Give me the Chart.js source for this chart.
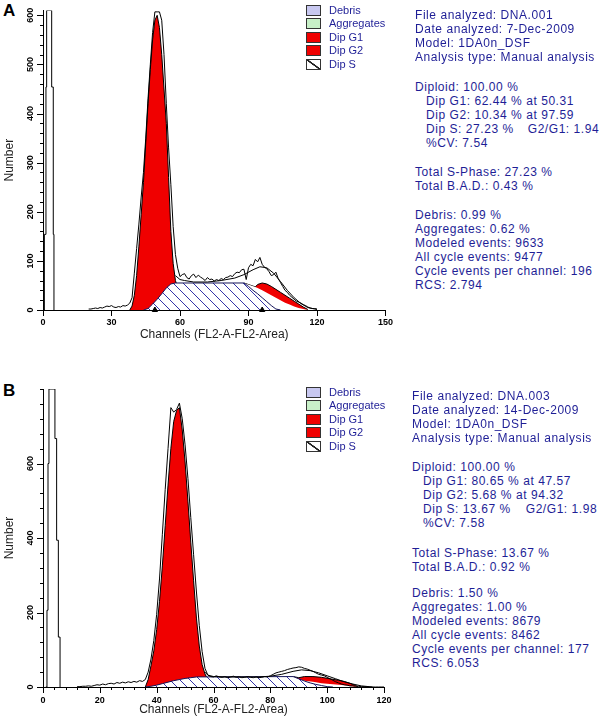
<!DOCTYPE html>
<html>
<head>
<meta charset="utf-8">
<script src="https://cdn.jsdelivr.net/npm/chart.js@4.4.1/dist/chart.umd.min.js"></script>
<style>
body { margin: 0; width: 600px; height: 720px; background: #fff; position: relative; overflow: hidden; font-family: "Liberation Sans", Arial, sans-serif; }
canvas { position: absolute; left: 0; }
.tag { position: absolute; left: 3px; font: bold 17px "Liberation Sans", Arial, sans-serif; color: #000; }
.legend { position: absolute; left: 306px; font-size: 11px; color: #1e1e96; }
.legend div { position: relative; height: 13.4px; line-height: 13px; padding-left: 23px; }
.sw { position: absolute; left: 0; top: 1px; width: 13px; height: 9px; border: 1px solid #333; }
.hs { background: linear-gradient(36deg, #fff 43%, #222 46%, #222 54%, #fff 57%); }
.stats { position: absolute; font-size: 12px; letter-spacing: 0.55px; line-height: 14px; color: #1e1e96; white-space: pre; }
.stats .in { padding-left: 11px; }
</style>
</head>
<body>

<div class="tag" style="top:1px">A</div>
<div class="tag" style="top:381px">B</div>
<canvas id="chartA" width="400" height="345" style="top:0"></canvas>
<canvas id="chartB" width="400" height="350" style="top:370px"></canvas>

<div class="legend" style="top:4px">
  <div><span class="sw" style="background:#c8c8f0"></span>Debris</div>
  <div><span class="sw" style="background:#c8f0c8"></span>Aggregates</div>
  <div><span class="sw" style="background:#f00000"></span>Dip G1</div>
  <div><span class="sw" style="background:#f00000"></span>Dip G2</div>
  <div><span class="sw hs"></span>Dip S</div>
</div>
<div class="legend" style="top:386px">
  <div><span class="sw" style="background:#c8c8f0"></span>Debris</div>
  <div><span class="sw" style="background:#c8f0c8"></span>Aggregates</div>
  <div><span class="sw" style="background:#f00000"></span>Dip G1</div>
  <div><span class="sw" style="background:#f00000"></span>Dip G2</div>
  <div><span class="sw hs"></span>Dip S</div>
</div>

<div class="stats" style="left:415px;top:8px">File analyzed: DNA.001
Date analyzed: 7-Dec-2009
Model: 1DA0n_DSF
Analysis type: Manual analysis</div>
<div class="stats" style="left:415px;top:80px">Diploid: 100.00 %
<span class="in">Dip G1: 62.44 % at 50.31</span>
<span class="in">Dip G2: 10.34 % at 97.59</span>
<span class="in">Dip S: 27.23 %<span style="margin-left:14px">G2/G1: 1.94</span></span>
<span class="in">%CV: 7.54</span></div>
<div class="stats" style="left:415px;top:165px">Total S-Phase: 27.23 %
Total B.A.D.: 0.43 %</div>
<div class="stats" style="left:415px;top:208px">Debris: 0.99 %
Aggregates: 0.62 %
Modeled events: 9633
All cycle events: 9477
Cycle events per channel: 196
RCS: 2.794</div>

<div class="stats" style="left:412px;top:389px">File analyzed: DNA.003
Date analyzed: 14-Dec-2009
Model: 1DA0n_DSF
Analysis type: Manual analysis</div>
<div class="stats" style="left:412px;top:460px">Diploid: 100.00 %
<span class="in">Dip G1: 80.65 % at 47.57</span>
<span class="in">Dip G2: 5.68 % at 94.32</span>
<span class="in">Dip S: 13.67 %<span style="margin-left:15px">G2/G1: 1.98</span></span>
<span class="in">%CV: 7.58</span></div>
<div class="stats" style="left:412px;top:546px">Total S-Phase: 13.67 %
Total B.A.D.: 0.92 %</div>
<div class="stats" style="left:412px;top:586px">Debris: 1.50 %
Aggregates: 1.00 %
Modeled events: 8679
All cycle events: 8462
Cycle events per channel: 177
RCS: 6.053</div>

<script>
// ---- panel A data (channel -> number) ----
var chRawA = [20,21,22,23,24,25,26,27,28,29,30,31,32,33,34,35,36,37,38,39,40,41,42,43,44,45,46,47,48,49,50,51,52,53,54,55,56,57,58,59,60,61,62,63,64,65,66,67,68,69,70,71,72,73,74,75,76,77,78,79,80,81,82,83,84,85,86,87,88,89,90,91,92,93,94,95,96,97,98,99,100,101,102,103,104,105,106,107,108,109,110,111,112,113,114,115,116,117,118,119,120]
var rawA = [2,2,3,4,3,5,4,6,8,7,9,6,5,7,6,9,8,10,14,25,75,125,175,230,280,350,430,500,565,607,607,607,590,520,420,330,255,170,113,85,68,72,74,66,63,70,73,66,71,67,64,60,66,62,63,59,62,60,64,62,66,67,70,68,74,77,76,82,83,62,86,93,90,103,98,107,93,87,84,78,70,72,77,64,56,48,40,36,30,26,22,18,16,14,11,9,6,4,3,3,2]
var chModelA = [58,60,62,66,72,78,84,88,92,95,98,101,104,107,110,113,116,120]
var modelA = [70,62,60,57,57,60,65,72,82,88,86,75,58,40,25,13,5,1]
var chG1A = [38,39,40,41,42,43,44,45,46,47,48,49,50,51,52,53,54,55,56,57,58,59,60,61,62]
var g1A = [0,8,30,70,130,195,260,340,420,490,550,590,600,575,520,450,380,270,160,95,60,45,30,10,0]
var chSA = [44,46,48,50,52,54,56,58,88,90,92,94,96,98,100,102,104]
var sA = [0,3,12,22,33,45,53,55,55,48,40,33,25,17,9,2,0]
var chG2A = [88,93,94,96,98,100,102,104,106,108,110,112,114,116]
var g2TopA = [55,47,52,55,53,48,42,36,30,24,18,12,6,1]
var g2BaseA = [55,47,45,40,35,30,25,20,15,11,7,4,2,0]
var debrisXA = [0.2,0.6,1.3,1.6,3.8,4.5,4.8]
var debrisA = [0,154,454,610,454,154,0]
var peakXA = [49,96]
var xTicksA = [0,30,60,90,120,150]
var yTicksA = [0,100,200,300,400,500,600]

// ---- panel B data ----
var chRawB = [12,13,14,15,16,17,18,19,20,21,22,23,24,25,26,27,28,29,30,31,32,33,34,35,36,37,38,39,40,41,42,43,44,45,46,47,48,49,50,51,52,53,54,55,56,57,58,59,60,61,62,63,64,65,66,67,68,69,70,71,72,73,74,75,76,77,78,79,80,81,82,83,84,85,86,87,88,89,90,91,92,93,94,95,96,97,98,99,100,101,102,103,104,105,106,107,108,109,110,111,112,113,114,115,116,117,118,119,120]
var rawB = [1,1,2,2,3,2,4,6,5,8,6,9,10,8,12,10,13,11,14,12,15,13,17,15,20,40,75,125,195,290,410,530,640,750,738,745,762,720,650,560,455,355,255,165,95,50,32,28,27,30,27,26,28,25,27,29,26,27,25,26,28,26,25,27,25,26,28,27,30,34,38,40,42,44,47,49,51,52,54,53,50,48,45,42,38,34,32,30,26,22,18,14,11,8,6,5,3,3,2,2,1,1,1,0,0,0,0,0,0]
var chModelB = [57,58,60,64,70,76,80,84,88,91,94,97,100,103,106,109,112,116]
var modelB = [40,32,28,27,27,27,29,34,42,46,44,38,30,22,14,8,3,0]
var chG1B = [36,37,38,39,40,41,42,43,44,45,46,47,48,49,50,51,52,53,54,55,56,57,58,59,60]
var g1B = [0,20,57,97,154,230,325,433,542,641,713,742,750,690,604,499,389,285,185,110,60,35,20,10,0]
var chSB = [36,38,40,42,44,46,48,50,52,54,88,90,92,94,96,98,100,102]
var sB = [0,2,5,9,13,17,20,23,25,27,28,22,16,11,7,4,1,0]
var chG2B = [88,90,92,95,98,101,104,106,108,110,111]
var g2TopB = [28,25,28,28,26,22,18,15,10,4,0]
var g2BaseB = [28,20,17,14,10,8,6,5,3,1,0]
var debrisXB = [1.0,1.4,1.76,2.1,4.2,4.8,5.4,6.0]
var debrisB = [0,206,600,800,667,394,134,0]
var xTicksB = [0,20,40,60,80,100,120]
var yTicksB = [0,200,400,600]

var RED = '#f00000'
var INK = '#000'

function pts(xs, ys) {
    return xs.map(function(x, i) { return { x: x, y: ys[i] } })
}

function hatch(size) {
    var c = document.createElement('canvas')
    c.width = size
    c.height = size
    var g = c.getContext('2d')
    g.fillStyle = '#fff'
    g.fillRect(0, 0, size, size)
    g.strokeStyle = '#3434a8'
    g.lineWidth = 1
    g.beginPath()
    g.moveTo(-1, -1); g.lineTo(size + 1, size + 1)
    g.moveTo(-2, size - 2); g.lineTo(2, size + 2)
    g.moveTo(size - 2, -2); g.lineTo(size + 2, 2)
    g.stroke()
    return g.createPattern(c, 'repeat')
}

// small tick marks drawn on the library's own scales
var tickMarks = {
    id: 'tickMarks',
    afterDraw(chart, args, o) {
        var ctx = chart.ctx
        var x = chart.scales.x, y = chart.scales.y
        ctx.save()
        ctx.strokeStyle = INK
        ctx.lineWidth = 1
        ctx.beginPath()
        for (var v = 0; v <= y.max + 0.01; v += o.yMinor) {
            var py = Math.round(y.getPixelForValue(v)) + 0.5
            var len = o.yMajor.indexOf(v) >= 0 ? 6 : 3
            ctx.moveTo(y.right - len, py); ctx.lineTo(y.right, py)
        }
        for (var w = 0; w <= x.max + 0.01; w += o.xMinor) {
            var px = Math.round(x.getPixelForValue(w)) + 0.5
            var l2 = o.xMajor.indexOf(w) >= 0 ? 6 : 3
            ctx.moveTo(px, x.top); ctx.lineTo(px, x.top + l2)
        }
        ctx.stroke()
        ctx.restore()
    }
}

function makeChart(id, p) {
    var datasets = [
        { data: pts(p.debrisX, p.debris), stepped: 'before', fill: 'origin', backgroundColor: '#fff', borderColor: INK, borderWidth: 1 },
        { data: pts(p.chRaw, p.raw), borderColor: INK, borderWidth: 1, fill: false },
        { data: pts(p.chModel, p.model), borderColor: INK, borderWidth: 1, fill: false },
        { data: pts(p.chS, p.s), fill: 'origin', backgroundColor: hatch(10), borderColor: '#14145a', borderWidth: 1 },
        { data: pts(p.chG2, p.g2Base), fill: 'origin', backgroundColor: '#fff', borderColor: '#fff', borderWidth: 0 },
        { data: pts(p.chG2, p.g2Top), fill: 'origin', backgroundColor: RED, borderColor: INK, borderWidth: 1 },
        { data: pts(p.chG1, p.g1), fill: 'origin', backgroundColor: RED, borderColor: INK, borderWidth: 1 }
    ]
    if (p.peaks) {
        datasets.unshift({
            data: p.peaks.map(function(v) { return { x: v, y: 0 } }),
            showLine: false, pointStyle: 'triangle', pointRadius: 3,
            pointBackgroundColor: INK, pointBorderColor: INK, clip: false
        })
    }
    var tickFont = { family: '"Liberation Sans", Arial, sans-serif', size: 9, weight: 'bold' }
    var titleFont = { family: '"Liberation Sans", Arial, sans-serif', size: 12 }
    return new Chart(document.getElementById(id), {
        type: 'line',
        data: { datasets: datasets },
        plugins: [tickMarks],
        options: {
            responsive: false,
            animation: false,
            events: [],
            layout: { padding: p.padding },
            elements: { point: { radius: 0 }, line: { tension: 0 } },
            plugins: {
                legend: { display: false },
                tooltip: { enabled: false },
                tickMarks: { xMinor: p.xMinor, xMajor: p.xTicks, yMinor: p.yMinor, yMajor: p.yTicks }
            },
            scales: {
                x: {
                    type: 'linear', min: 0, max: p.xMax,
                    afterBuildTicks: function(s) { s.ticks = p.xTicks.map(function(v) { return { value: v } }) },
                    afterFit: function(s) { s.height = p.xHeight },
                    grid: { display: false, drawTicks: false },
                    border: { display: true, color: INK, width: 1 },
                    ticks: { padding: p.xPad, font: tickFont, color: INK, maxRotation: 0, autoSkip: false },
                    title: { display: true, text: 'Channels (FL2-A-FL2-Area)', font: titleFont, color: '#222', padding: { top: 0, bottom: 3 } }
                },
                y: {
                    type: 'linear', min: 0, max: p.yMax,
                    afterBuildTicks: function(s) { s.ticks = p.yTicks.map(function(v) { return { value: v } }) },
                    afterFit: function(s) { s.width = 43 },
                    grid: { display: false, drawTicks: false },
                    border: { display: true, color: INK, width: 1 },
                    ticks: { padding: 5, font: tickFont, color: INK, minRotation: 90, maxRotation: 90, crossAlign: 'center', autoSkip: false },
                    title: { display: true, text: 'Number', font: titleFont, color: '#222', padding: { top: 2, bottom: 0 } }
                }
            }
        }
    })
}

makeChart('chartA', {
    chRaw: chRawA, raw: rawA, chModel: chModelA, model: modelA,
    chG1: chG1A, g1: g1A, chS: chSA, s: sA, chG2: chG2A, g2Top: g2TopA, g2Base: g2BaseA,
    debrisX: debrisXA, debris: debrisA, peaks: peakXA,
    xMax: 150, yMax: 610, xTicks: xTicksA, yTicks: yTicksA, xMinor: 30, yMinor: 20,
    xHeight: 35, xPad: 7, padding: { top: 5, right: 12, left: 0, bottom: 0 }
})

makeChart('chartB', {
    chRaw: chRawB, raw: rawB, chModel: chModelB, model: modelB,
    chG1: chG1B, g1: g1B, chS: chSB, s: sB, chG2: chG2B, g2Top: g2TopB, g2Base: g2BaseB,
    debrisX: debrisXB, debris: debrisB, peaks: null,
    xMax: 120, yMax: 800, xTicks: xTicksB, yTicks: yTicksB, xMinor: 4, yMinor: 40,
    xHeight: 33, xPad: 8, padding: { top: 19, right: 16, left: 0, bottom: 0 }
})
</script>
</body>
</html>
